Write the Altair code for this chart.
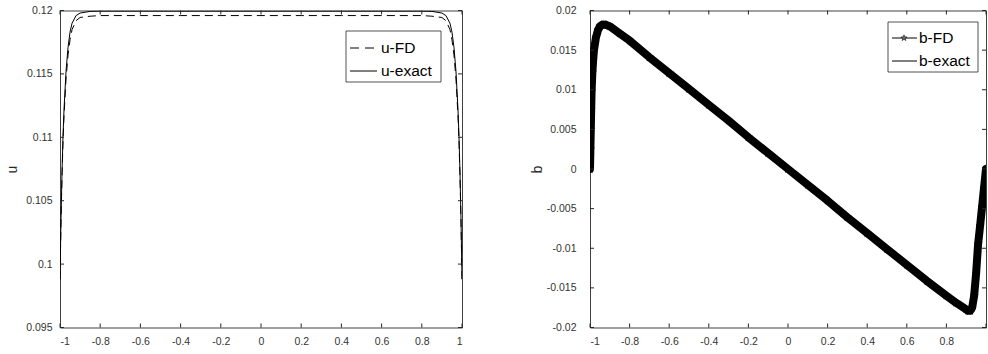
import altair as alt
import pandas as pd

# ---------------- data ----------------
x_u = [-1, -0.995, -0.99, -0.985, -0.98, -0.97, -0.96, -0.95, -0.94, -0.92, -0.9, -0.85, -0.8,
       -0.6, -0.4, -0.2, 0, 0.2, 0.4, 0.6,
       0.8, 0.85, 0.9, 0.92, 0.94, 0.95, 0.96, 0.97, 0.98, 0.985, 0.99, 0.995, 1]
u_exact = [0.0988, 0.1036, 0.1072, 0.1101, 0.1122, 0.1152, 0.1171, 0.1183, 0.1190, 0.1196, 0.1198, 0.11993, 0.11995,
           0.11995, 0.11995, 0.11995, 0.11995, 0.11995, 0.11995, 0.11995,
           0.11995, 0.11993, 0.1198, 0.1196, 0.1190, 0.1183, 0.1171, 0.1152, 0.1122, 0.1101, 0.1072, 0.1036, 0.0988]
u_fd = [0.0988, 0.1034, 0.1069, 0.1097, 0.1117, 0.1146, 0.1165, 0.1177, 0.1185, 0.1192, 0.11945, 0.11955, 0.1196,
        0.1196, 0.1196, 0.1196, 0.1196, 0.1196, 0.1196, 0.1196,
        0.1196, 0.11955, 0.11945, 0.1192, 0.1185, 0.1177, 0.1165, 0.1146, 0.1117, 0.1097, 0.1069, 0.1034, 0.0988]

x_b = [-1, -0.998, -0.996, -0.994, -0.992, -0.988, -0.984, -0.98, -0.97, -0.96,
       -0.95, -0.94, -0.93, -0.92, -0.9, -0.85, -0.8, -0.7, -0.6, -0.5,
       -0.4, -0.3, -0.2, -0.1, 0, 0.1, 0.2, 0.3, 0.4, 0.5,
       0.6, 0.7, 0.8, 0.85, 0.9, 0.91, 0.92, 0.93, 0.94, 0.95,
       0.96, 0.97, 0.98, 0.99, 1]
b_fd = [0, 0.0025, 0.0050, 0.0075, 0.0098, 0.0122, 0.0138, 0.0150, 0.0166, 0.0175,
        0.0180, 0.0182, 0.0182, 0.0182, 0.0180, 0.0171, 0.0162, 0.0141, 0.0121, 0.0101,
        0.0081, 0.0061, 0.0040, 0.0020, 0, -0.0020, -0.0040, -0.0061, -0.0081, -0.0101,
        -0.0121, -0.0141, -0.0160, -0.0169, -0.0177, -0.0179, -0.0179, -0.0175, -0.0160, -0.0132,
        -0.0095, -0.0072, -0.0048, -0.0024, 0]
b_exact = [0, 0.0025, 0.0050, 0.0075, 0.0098, 0.0122, 0.0138, 0.0150, 0.0166, 0.0175,
           0.0180, 0.0182, 0.0182, 0.0182, 0.0180, 0.0171, 0.0162, 0.0141, 0.0121, 0.0101,
           0.0081, 0.0061, 0.0040, 0.0020, 0, -0.0020, -0.0040, -0.0061, -0.0081, -0.0101,
           -0.0121, -0.0141, -0.0160, -0.0169, -0.0177, -0.0179, -0.0179, -0.0175, -0.0160, -0.0132,
           -0.0095, -0.0072, -0.0048, -0.0024, 0]

x_ticks = [-1, -0.8, -0.6, -0.4, -0.2, 0, 0.2, 0.4, 0.6, 0.8, 1]
u_ticks = [0.095, 0.1, 0.105, 0.11, 0.115, 0.12]
b_ticks = [-0.02, -0.015, -0.01, -0.005, 0, 0.005, 0.01, 0.015, 0.02]
u_labels = ["u-FD", "u-exact"]
b_labels = ["b-FD", "b-exact"]

# ---------------- styling ----------------
W, H = 402, 317
WR = 396
FONT = "Liberation Sans"
INK = "#262626"
LBL = "#333333"
STAR = "M0,-1L0.2245,-0.309L0.951,-0.309L0.363,0.118L0.588,0.809L0,0.382L-0.588,0.809L-0.363,0.118L-0.951,-0.309L-0.2245,-0.309Z"


def xaxis(hide_last=False):
    expr = "datum.value == 1 ? '' : toString(datum.value)" if hide_last else "toString(datum.value)"
    return alt.Axis(values=x_ticks, labelExpr=expr, title="",
                    ticks=False, domain=False, grid=False, labelPadding=9,
                    labelFont=FONT, labelFontSize=10.5, labelColor=LBL)


def yaxis(ticks, title, pad, tpad):
    return alt.Axis(values=ticks, labelExpr="toString(datum.value)", title=title,
                    ticks=False, domain=False, grid=False, labelPadding=pad,
                    labelFont=FONT, labelFontSize=10.5, labelColor=LBL,
                    titleFont=FONT, titleFontSize=14, titleFontWeight="normal",
                    titleColor=INK, titlePadding=tpad)


def inward_ticks(xs, ys, yticks, xax, yax, w):
    tx = pd.DataFrame({"t": x_ticks})
    ty = pd.DataFrame({"t": yticks})
    enc_x = dict(x=alt.X("t:Q", scale=xs, axis=xax))
    enc_y = dict(y=alt.Y("t:Q", scale=ys, axis=yax))
    bot = alt.Chart(tx).mark_rule(color=INK, strokeWidth=1).encode(**enc_x, y=alt.value(H), y2=alt.value(H - 4))
    top = alt.Chart(tx).mark_rule(color=INK, strokeWidth=1).encode(**enc_x, y=alt.value(0), y2=alt.value(4))
    lft = alt.Chart(ty).mark_rule(color=INK, strokeWidth=1).encode(**enc_y, x=alt.value(0), x2=alt.value(4))
    rgt = alt.Chart(ty).mark_rule(color=INK, strokeWidth=1).encode(**enc_y, x=alt.value(w), x2=alt.value(w - 4))
    return [bot, top, lft, rgt]


def legend_box(x0, x1, y0, y1):
    return alt.Chart(alt.Data(values=[{}])).mark_rect(
        fill="white", stroke=INK, strokeWidth=0.8).encode(
        x=alt.value(x0), x2=alt.value(x1), y=alt.value(y0), y2=alt.value(y1))


def legend_text(label, x, y):
    return alt.Chart(pd.DataFrame({"label": [label]})).mark_text(
        align="left", baseline="middle", font=FONT, fontSize=15.5, color="black").encode(
        text="label:N", x=alt.value(x), y=alt.value(y))


def legend_line(x0, x1, y, dash=None):
    kw = dict(color="black", strokeWidth=1)
    if dash:
        kw["strokeDash"] = dash
    return alt.Chart(alt.Data(values=[{}])).mark_rule(**kw).encode(
        x=alt.value(x0), x2=alt.value(x1), y=alt.value(y))


# ---------------- left panel: u ----------------
xs = alt.Scale(domain=[-1, 1], nice=False, zero=False)
ys_u = alt.Scale(domain=[0.095, 0.12], nice=False, zero=False)
xax_u = xaxis()
yax_u = yaxis(u_ticks, "u", 8, 6)
df_u = pd.DataFrame({"x": x_u, "exact": u_exact, "fd": u_fd})

u_ex_line = alt.Chart(df_u).mark_line(color="black", strokeWidth=1, clip=True).encode(
    x=alt.X("x:Q", scale=xs, axis=xax_u),
    y=alt.Y("exact:Q", scale=ys_u, axis=yax_u),
    order="x:Q")
u_fd_line = alt.Chart(df_u).mark_line(color="black", strokeWidth=1, strokeDash=[8, 5], clip=True).encode(
    x=alt.X("x:Q", scale=xs, axis=xax_u),
    y=alt.Y("fd:Q", scale=ys_u, axis=yax_u),
    order="x:Q")

left = alt.layer(
    u_fd_line, u_ex_line,
    *inward_ticks(xs, ys_u, u_ticks, xax_u, yax_u, W),
    legend_box(286, 381, 20.5, 71.5),
    legend_line(290, 314, 37.5, [9, 6]),
    legend_line(290, 317, 60.5),
    legend_text(u_labels[0], 321, 37.5),
    legend_text(u_labels[1], 321, 60.5),
).properties(width=W, height=H)

# ---------------- right panel: b ----------------
ys_b = alt.Scale(domain=[-0.02, 0.02], nice=False, zero=False)
xax_b = xaxis(hide_last=True)
yax_b = yaxis(b_ticks, "b", 14, 2)
df_b = pd.DataFrame({"x": x_b, "fd": b_fd, "exact": b_exact})

b_band = alt.Chart(df_b).mark_line(color="black", strokeWidth=8, strokeJoin="round",
                                   strokeCap="round", clip=True).encode(
    x=alt.X("x:Q", scale=xs, axis=xax_b),
    y=alt.Y("fd:Q", scale=ys_b, axis=yax_b),
    order="x:Q")
b_stars = alt.Chart(df_b).mark_point(shape=STAR, size=70, filled=False, color="black",
                                     strokeWidth=1, clip=True).encode(
    x=alt.X("x:Q", scale=xs, axis=xax_b),
    y=alt.Y("fd:Q", scale=ys_b, axis=yax_b))
b_ex_line = alt.Chart(df_b).mark_line(color="black", strokeWidth=1, clip=True).encode(
    x=alt.X("x:Q", scale=xs, axis=xax_b),
    y=alt.Y("exact:Q", scale=ys_b, axis=yax_b),
    order="x:Q")
b_leg_star = alt.Chart(pd.DataFrame({"label": [b_labels[0]]})).mark_point(
    shape=STAR, size=40, filled=False, color="black", strokeWidth=1).encode(
    x=alt.value(314), y=alt.value(27.5))

right = alt.layer(
    b_band, b_stars, b_ex_line,
    *inward_ticks(xs, ys_b, b_ticks, xax_b, yax_b, WR),
    legend_box(298, 388, 11.5, 61.5),
    legend_line(302, 327, 27.5),
    b_leg_star,
    legend_line(302, 327, 50.5),
    legend_text(b_labels[0], 329, 27.5),
    legend_text(b_labels[1], 329, 50.5),
).properties(width=WR, height=H)

chart = alt.hconcat(left, right, spacing=66).properties(
    padding={"left": 5, "top": 4.5, "right": 0, "bottom": 0},
    background="white",
).configure_view(stroke="#404040", strokeWidth=1)

chart.save("out.html", embed_options={"renderer": "svg", "actions": False})
